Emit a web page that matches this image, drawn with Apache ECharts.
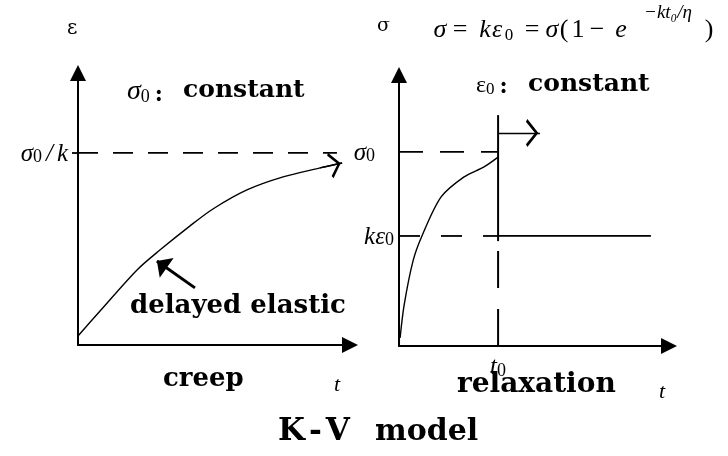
<!DOCTYPE html>
<html><head><meta charset="utf-8">
<script src="https://cdn.jsdelivr.net/npm/echarts@6/dist/echarts.min.js"></script>
<style>html,body{margin:0;padding:0;background:#fff}#c{width:728px;height:456px}</style>
</head><body><div id="c"></div>
<script>
// ---- creep panel (strain vs time) ----
const creepT = [0, 8.1, 21.7, 30.1, 41.2, 49.6, 62.1, 75.4, 89.0, 97.1];
const creepStrain = [3.3, 12.5, 27.6, 34.9, 43.8, 50.0, 57.0, 61.8, 65.1, 66.9];
const creepLimit = 70.6;      // sigma0 / k
const creepLimitEnd = 95.2;
const pointerTail = [43.0, 21.0];
const pointerTip = [29.0, 30.9];

// ---- relaxation panel (stress vs time) ----
const relaxT = [0.4, 1.9, 5.2, 8.5, 15.6, 24.1, 31.5, 36.7];
const relaxStress = [3.0, 15.1, 31.4, 40.6, 55.0, 62.4, 66.1, 69.7];
const sigma0 = 71.6;
const kEps0 = 40.6;
const kEps0End = 93.3;
const t0 = 36.7;
const t0LineTop = 85.2;
const t0SolidBottom = 38.7;
const stepArrowY = 78.6;
const stepArrowEnd = 52.2;

// tick labels
const creepYLabel = '{v|σ}{sub|0}{sl|/}{v|k}';
const relaxSigmaLabel = '{v|σ}{sub|0}';
const relaxKLabel = '{v|kε}{sub|0}';
const relaxTLabel = '{v|t}{sub|0}';

// formula pieces: [text, style]
const formulaPieces = [
  ['σ', 'i'], ['=', 'n'], ['k', 'i'], ['ε', 'i'], ['0', 's'], ['=', 'n'], ['σ', 'i'],
  ['(', 'n'], ['1', 'n'], ['−', 'n'], ['e', 'i'], ['−kt₀/η', 'sup'], [')', 'n']
];
const formulaX = [440, 460, 485, 497, 509, 532, 552, 564, 578, 597, 621, 668, 709];

const SERIF = '"DejaVu Serif", "Liberation Serif", serif';
const TIMES = '"Liberation Serif", "DejaVu Serif", serif';
const K = '#000';

const richMath = {
  v: { fontFamily: TIMES, fontStyle: 'italic', fontSize: 25, color: K, verticalAlign: 'bottom', lineHeight: 27 },
  sl: { fontFamily: TIMES, fontStyle: 'italic', fontSize: 25, color: K, verticalAlign: 'bottom', lineHeight: 27, padding: [0, 4, 0, 4] },
  sub: { fontFamily: TIMES, fontSize: 18, color: K, verticalAlign: 'bottom', lineHeight: 21 },
};

const openArrow = 'path://M5,-12L5,-12ZM5,0L10,8.5L9,9.6L5,2.6L1,9.6L0,8.5Z';
const solidArrow = 'path://M5,-11L5,-11ZM5,0L10,11L0,11Z';

function pairs(xs, ys) { return xs.map((x, i) => [x, ys[i]]); }

function baseAxis(idx, extra) {
  return Object.assign({
    type: 'value', gridIndex: idx, min: 0, max: 100,
    axisLine: { show: true, onZero: false, lineStyle: { color: K, width: 2 }, symbol: ['none', 'triangle'], symbolSize: [16, 16] },
    axisTick: { show: false }, axisLabel: { show: false }, splitLine: { show: false }
  }, extra || {});
}

const solidLine = (w) => ({ color: K, width: w, opacity: 1 });

const formulaFonts = {
  i: 'italic 26px ' + TIMES,
  n: '26px ' + TIMES,
  s: '17px ' + TIMES,
  sup: 'italic 19px ' + TIMES
};
const formulaY = { i: 30, n: 30, s: 36, sup: 13 };

const formulaGraphics = formulaPieces.map((p, i) => ({
  type: 'text', x: formulaX[i], y: formulaY[p[1]],
  style: { text: p[0], font: formulaFonts[p[1]], fill: K, align: 'center', verticalAlign: 'middle' }
}));

const option = {
  animation: false,
  backgroundColor: '#fff',
  grid: [
    { left: 78, top: 73, width: 272, height: 272 },
    { left: 399, top: 75, width: 270, height: 271 }
  ],
  xAxis: [
    baseAxis(0),
    baseAxis(1, {
      axisLabel: { show: true, customValues: [t0], margin: 7, formatter: () => relaxTLabel, rich: richMath }
    })
  ],
  yAxis: [
    baseAxis(0, {
      axisTick: { show: true, customValues: [creepLimit], length: 6, lineStyle: { color: K, width: 1.8 } },
      axisLabel: { show: true, customValues: [creepLimit], margin: 10, formatter: () => creepYLabel, rich: richMath }
    }),
    baseAxis(1, {
      axisLabel: {
        show: true, customValues: [kEps0, sigma0], margin: 5,
        formatter: (v) => (Math.abs(v - sigma0) < 0.01 ? relaxSigmaLabel + '{gap|}' : relaxKLabel),
        rich: Object.assign({ gap: { width: 19 } }, richMath)
      }
    })
  ],
  series: [
    // creep curve
    { type: 'line', xAxisIndex: 0, yAxisIndex: 0, data: pairs(creepT, creepStrain), smooth: 0.3,
      symbol: 'none', lineStyle: solidLine(1.4) },
    { type: 'lines', coordinateSystem: 'cartesian2d', xAxisIndex: 0, yAxisIndex: 0,
      symbol: ['none', openArrow], symbolSize: [13, 26],
      lineStyle: { color: K, width: 1.4, opacity: 1, curveness: 0 },
      data: [{ coords: [[creepT[8], creepStrain[8]], [creepT[9], creepStrain[9]]] }] },
    // sigma0/k asymptote
    { type: 'line', xAxisIndex: 0, yAxisIndex: 0, data: [[0, creepLimit], [creepLimitEnd, creepLimit]],
      symbol: 'none', lineStyle: { color: K, width: 1.8, type: [20, 15] } },
    // delayed elastic pointer
    { type: 'lines', coordinateSystem: 'cartesian2d', xAxisIndex: 0, yAxisIndex: 0,
      symbol: ['none', solidArrow], symbolSize: [11, 24],
      lineStyle: { color: K, width: 3, opacity: 1, curveness: 0 },
      data: [{ coords: [pointerTail, pointerTip] }] },

    // relaxation curve
    { type: 'line', xAxisIndex: 1, yAxisIndex: 1, data: pairs(relaxT, relaxStress), smooth: 0.3,
      symbol: 'none', lineStyle: solidLine(1.4) },
    // sigma0 dashed
    { type: 'line', xAxisIndex: 1, yAxisIndex: 1, data: [[0, sigma0], [t0, sigma0]],
      symbol: 'none', lineStyle: { color: K, width: 1.8, type: [24, 17] } },
    // k eps0 dashed + solid
    { type: 'line', xAxisIndex: 1, yAxisIndex: 1, data: [[0, kEps0], [t0, kEps0]],
      symbol: 'none', lineStyle: { color: K, width: 1.8, type: [21, 21] } },
    { type: 'line', xAxisIndex: 1, yAxisIndex: 1, data: [[t0, kEps0], [kEps0End, kEps0]],
      symbol: 'none', lineStyle: solidLine(1.8) },
    // t0 vertical: solid upper, dashed lower (dash pattern starts at the axis)
    { type: 'line', xAxisIndex: 1, yAxisIndex: 1, data: [[t0, t0LineTop], [t0, t0SolidBottom]],
      symbol: 'none', lineStyle: solidLine(2) },
    { type: 'line', xAxisIndex: 1, yAxisIndex: 1, data: [[t0, 0], [t0, t0SolidBottom]],
      symbol: 'none', lineStyle: { color: K, width: 2, type: [37, 21] } },
    // step arrow
    { type: 'lines', coordinateSystem: 'cartesian2d', xAxisIndex: 1, yAxisIndex: 1,
      symbol: ['none', openArrow], symbolSize: [13, 28],
      lineStyle: { color: K, width: 1.4, opacity: 1, curveness: 0 },
      data: [{ coords: [[t0, stepArrowY], [stepArrowEnd, stepArrowY]] }] }
  ],
  graphic: formulaGraphics.concat([
    { type: 'text', left: 67, top: 19, style: { text: 'ε', font: '20px ' + SERIF, fill: K } },
    { type: 'text', left: 377, top: 17, style: { text: 'σ', font: '19px ' + SERIF, fill: K } },
    { type: 'text', left: 127, top: 78, style: {
      text: '{v|σ}{sub|0}{b|:}',
      rich: {
        v: { fontFamily: TIMES, fontStyle: 'italic', fontSize: 28, fill: K, verticalAlign: 'bottom', lineHeight: 30 },
        sub: { fontFamily: TIMES, fontSize: 18, fill: K, verticalAlign: 'bottom', lineHeight: 24 },
        b: { fontFamily: SERIF, fontWeight: 'bold', fontSize: 22, fill: K, verticalAlign: 'bottom', lineHeight: 30, padding: [0, 0, 0, 5] }
      } } },
    { type: 'text', left: 183, top: 78, style: { text: 'constant', font: 'bold 25px ' + SERIF, fill: K } },
    { type: 'text', left: 476, top: 74, style: {
      text: '{v|ε}{sub|0}{b|:}',
      rich: {
        v: { fontFamily: TIMES, fontSize: 24, fill: K, verticalAlign: 'bottom', lineHeight: 30 },
        sub: { fontFamily: TIMES, fontSize: 17, fill: K, verticalAlign: 'bottom', lineHeight: 24 },
        b: { fontFamily: SERIF, fontWeight: 'bold', fontSize: 22, fill: K, verticalAlign: 'bottom', lineHeight: 30, padding: [0, 0, 0, 5] }
      } } },
    { type: 'text', left: 528, top: 72, style: { text: 'constant', font: 'bold 25px ' + SERIF, fill: K } },
    { type: 'text', left: 130, top: 293, style: { text: 'delayed elastic', font: 'bold 26px ' + SERIF, fill: K } },
    { type: 'text', left: 163, top: 366, style: { text: 'creep', font: 'bold 26px ' + SERIF, fill: K } },
    { type: 'text', left: 334, top: 374, style: { text: 't', font: 'italic 22px ' + TIMES, fill: K } },
    { type: 'text', left: 457, top: 371, style: { text: 'relaxation', font: 'bold 28px ' + SERIF, fill: K } },
    { type: 'text', left: 659, top: 381, style: { text: 't', font: 'italic 22px ' + TIMES, fill: K } },
    { type: 'text', left: 278, top: 416, style: {
      text: '{a|K}{d|-}{a|V}',
      rich: {
        a: { fontFamily: SERIF, fontWeight: 'bold', fontSize: 31, fill: K },
        d: { fontFamily: SERIF, fontWeight: 'bold', fontSize: 31, fill: K, padding: [0, 4, 0, 4] }
      } } },
    { type: 'text', left: 375, top: 417, style: { text: 'model', font: 'bold 30px ' + SERIF, fill: K } }
  ])
};

const chart = echarts.init(document.getElementById('c'), null, { renderer: 'canvas' });
chart.setOption(option);
</script></body></html>
